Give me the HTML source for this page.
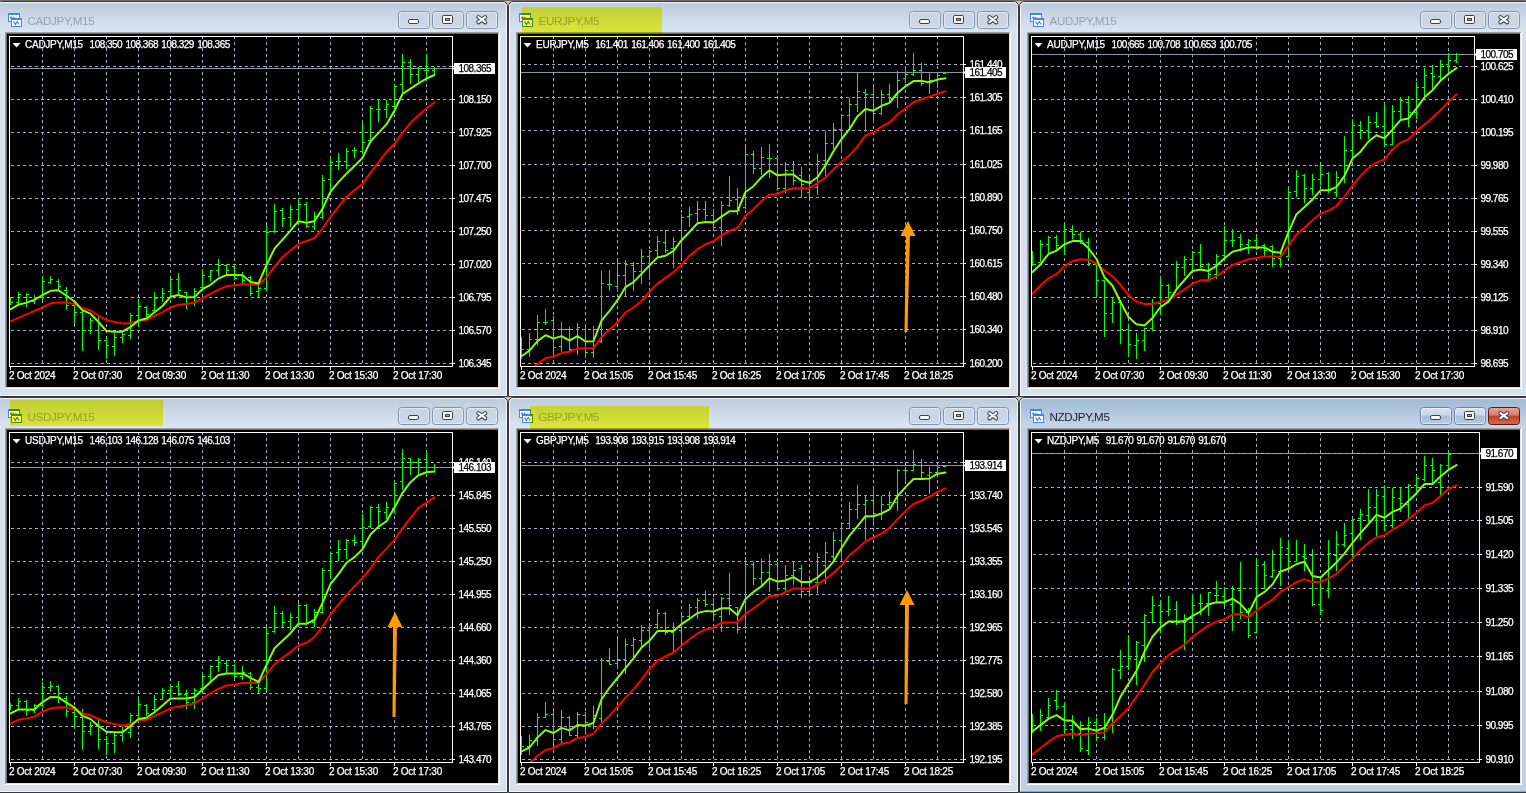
<!DOCTYPE html><html><head><meta charset="utf-8"><style>html,body{margin:0;padding:0;background:#c4c4c4;width:1526px;height:793px;overflow:hidden}svg{display:block} .n{font-family:'Liberation Sans', Arial, sans-serif;font-size:10px;letter-spacing:-0.52px;fill:#fff;stroke:#fff;stroke-width:0.25px} .n[fill]{fill:#000;stroke:#000} .t{font-family:'Liberation Sans', Arial, sans-serif;font-size:10px;letter-spacing:-0.25px;fill:#fff;stroke:#fff;stroke-width:0.25px}</style></head><body>
<svg width="1526" height="793" viewBox="0 0 1526 793">
<defs><linearGradient id="gI" x1="0" y1="0" x2="0" y2="1" gradientUnits="objectBoundingBox"><stop offset="0" stop-color="#bccadb"/><stop offset="0.075" stop-color="#dae5f1"/><stop offset="0.08" stop-color="#d5e1ee"/><stop offset="1" stop-color="#d5e1ee"/></linearGradient><linearGradient id="gA" x1="0" y1="0" x2="0" y2="1"><stop offset="0" stop-color="#9fb8d4"/><stop offset="0.075" stop-color="#c4d6ea"/><stop offset="0.08" stop-color="#bcd0e6"/><stop offset="1" stop-color="#bcd0e6"/></linearGradient><linearGradient id="gBtnI" x1="0" y1="0" x2="0" y2="1"><stop offset="0" stop-color="#c9d5e4"/><stop offset="1" stop-color="#cbd7e6"/></linearGradient><linearGradient id="gBtnA" x1="0" y1="0" x2="0" y2="1"><stop offset="0" stop-color="#d6e2ef"/><stop offset="0.45" stop-color="#c6d6e8"/><stop offset="0.5" stop-color="#a7bdd8"/><stop offset="1" stop-color="#b9cde3"/></linearGradient><linearGradient id="gRed" x1="0" y1="0" x2="0" y2="1"><stop offset="0" stop-color="#e8a393"/><stop offset="0.45" stop-color="#dc7e69"/><stop offset="0.5" stop-color="#c6401f"/><stop offset="1" stop-color="#d5694c"/></linearGradient></defs>
<rect x="0" y="0" width="1526" height="1" fill="#6f6f6d"/>
<path d="M-2.5,396.5 V7 Q-2.5,1.5 3,1.5 H502 Q507.5,1.5 507.5,7 V396.5 Z" fill="url(#gI)" stroke="#383838" stroke-width="1"/>
<path d="M-1.5,395.5 V7 Q-1.5,2.5 3,2.5 H502 Q506.5,2.5 506.5,7 V395.5 Z" fill="none" stroke="#f2f5fa" stroke-width="1"/>
<rect x="5" y="32" width="495" height="357" fill="#ffffff"/>
<rect x="5" y="32" width="494" height="356" fill="#a0a0a0"/>
<rect x="6" y="33" width="493" height="355" fill="#e3e3e3"/>
<rect x="6" y="33" width="492" height="354" fill="#696969"/>
<rect x="7" y="34" width="491" height="353" fill="#000"/>
<g transform="translate(-2,2)"><rect x="10.5" y="11.5" width="11" height="8" fill="#fff" stroke="#4683f0" stroke-width="1"/><rect x="10" y="11" width="12" height="2" fill="#4683f0"/><path d="M12,16.5 l1.2,-1.5 l1.2,1.5 M15,15 l1.3,1.3 h3" fill="none" stroke="#4683f0" stroke-width="1.1"/><rect x="13.5" y="16.5" width="10" height="8" fill="#fff" stroke="#4683f0" stroke-width="1"/><rect x="13" y="16" width="11" height="2" fill="#4683f0"/><path d="M15.5,19.5 L17.3,22.5 L19.2,19.5 L21.2,22.5" fill="none" stroke="#4683f0" stroke-width="1.2"/></g>
<text x="27.5" y="25" font-family="'Liberation Sans', Arial, sans-serif" font-size="11.6" letter-spacing="-0.32" fill="#979eae">CADJPY,M15</text>
<rect x="398.5" y="11.5" width="31" height="17" rx="3" fill="url(#gBtnI)" stroke="#8592ad" stroke-width="1"/>
<rect x="399.5" y="12.5" width="29" height="15" rx="2" fill="none" stroke="#ffffff" stroke-opacity="0.45" stroke-width="1"/>
<rect x="408.5" y="19.5" width="10" height="4" rx="1.5" fill="#fbfbfb" stroke="#3c4150" stroke-width="1"/>
<rect x="432.5" y="11.5" width="31" height="17" rx="3" fill="url(#gBtnI)" stroke="#8592ad" stroke-width="1"/>
<rect x="433.5" y="12.5" width="29" height="15" rx="2" fill="none" stroke="#ffffff" stroke-opacity="0.45" stroke-width="1"/>
<rect x="442.5" y="15.5" width="10" height="8" rx="1.2" fill="#fbfbfb" stroke="#3c4150" stroke-width="1"/><rect x="445.5" y="18.5" width="4" height="2" fill="#9aa8c8" stroke="#3c4150" stroke-width="1"/>
<rect x="466.5" y="11.5" width="31" height="17" rx="3" fill="url(#gBtnI)" stroke="#8592ad" stroke-width="1"/>
<rect x="467.5" y="12.5" width="29" height="15" rx="2" fill="none" stroke="#ffffff" stroke-opacity="0.45" stroke-width="1"/>
<path d="M478.40000000000003,17.2 L485.2,22.2 M485.2,17.2 L478.40000000000003,22.2" stroke="#3c4150" stroke-width="4.2" stroke-linecap="round"/><path d="M478.40000000000003,17.2 L485.2,22.2 M485.2,17.2 L478.40000000000003,22.2" stroke="#fbfbfb" stroke-width="2.2" stroke-linecap="round"/>
<clipPath id="clip00"><rect x="10" y="37" width="442" height="329"/></clipPath>
<rect x="10" y="68" width="442" height="1" fill="#8896aa"/>
<path d="M42.5,36V366M74.5,36V366M106.5,36V366M138.5,36V366M170.5,36V366M202.5,36V366M234.5,36V366M266.5,36V366M298.5,36V366M330.5,36V366M362.5,36V366M394.5,36V366M426.5,36V366" stroke="#a3aac2" stroke-width="1" stroke-dasharray="3 3" fill="none" shape-rendering="crispEdges"/>
<path d="M11,363.5H452M11,330.5H452M11,297.5H452M11,264.5H452M11,231.5H452M11,198.5H452M11,165.5H452M11,132.5H452M11,99.5H452M11,66.5H452" stroke="#a3aac2" stroke-width="1" stroke-dasharray="3 3" fill="none" shape-rendering="crispEdges" clip-path="url(#clip00)"/>
<path d="M10.5,297V305M8,301.5H10M11,302.5H13M18.5,292V304M16,302.5H18M19,294.5H21M26.5,293V307M24,303.5H26M27,294.5H29M34.5,295V304M32,301.5H34M35,297.5H37M42.5,276V300M40,297.5H42M43,281.5H45M50.5,276V284M48,282.5H50M51,279.5H53M58.5,279V291M56,281.5H58M59,286.5H61M66.5,287V310M64,290.5H66M67,305.5H69M74.5,305V324M72,305.5H74M75,312.5H77M82.5,311V351M80,312.5H82M83,330.5H85M90.5,318V334M88,330.5H90M91,320.5H93M98.5,316V350M96,320.5H98M99,340.5H101M106.5,338V359M104,340.5H106M107,345.5H109M114.5,333V356M112,346.5H114M115,337.5H117M122.5,333V343M120,337.5H122M123,334.5H125M130.5,313V339M128,335.5H130M131,315.5H133M138.5,299V327M136,315.5H138M139,306.5H141M146.5,306V320M144,307.5H146M147,314.5H149M154.5,292V311M152,310.5H154M155,298.5H157M162.5,288V302M160,297.5H162M163,293.5H165M170.5,279V298M168,291.5H170M171,279.5H173M178.5,273V294M176,279.5H178M179,290.5H181M186.5,292V309M184,292.5H186M187,297.5H189M194.5,288V306M192,297.5H194M195,291.5H197M202.5,269V291M200,287.5H202M203,275.5H205M210.5,270V281M208,276.5H210M211,270.5H213M218.5,259V276M216,270.5H218M219,265.5H221M226.5,264V276M224,265.5H226M227,270.5H229M234.5,265V280M232,266.5H234M235,278.5H237M242.5,272V284M240,275.5H242M243,280.5H245M250.5,276V296M248,277.5H250M251,293.5H253M258.5,284V298M256,291.5H258M259,288.5H261M266.5,225V291M264,288.5H266M267,232.5H269M274.5,204V233M272,231.5H274M275,211.5H277M282.5,208V227M280,210.5H282M283,218.5H285M290.5,205V227M288,217.5H290M291,209.5H293M298.5,199V223M296,209.5H298M299,204.5H301M306.5,202V228M304,204.5H306M307,226.5H309M314.5,212V230M312,226.5H314M315,216.5H317M322.5,175V219M320,217.5H322M323,180.5H325M330.5,157V191M328,179.5H330M331,162.5H333M338.5,153V170M336,161.5H338M339,161.5H341M346.5,148V169M344,161.5H346M347,151.5H349M354.5,147V158M352,150.5H354M355,150.5H357M362.5,121V154M360,151.5H362M363,142.5H365M370.5,106V141M368,140.5H370M371,108.5H373M378.5,99V122M376,109.5H378M379,109.5H381M386.5,100V118M384,109.5H386M387,104.5H389M394.5,84V113M392,106.5H394M395,86.5H397M402.5,54V93M400,84.5H402M403,62.5H405M410.5,59V84M408,62.5H410M411,74.5H413M418.5,67V82M416,74.5H418M419,68.5H421M426.5,54V79M424,70.5H426M427,70.5H429M434.5,67V74M432,70.5H434M435,68.5H437" stroke="#00ff00" stroke-width="1" fill="none" shape-rendering="crispEdges" clip-path="url(#clip00)"/>
<polyline points="10.5,321.3 18.5,317.9 26.5,314.4 34.5,310.9 42.5,307.5 50.5,303.3 58.5,302.6 66.5,302.6 74.5,304.0 82.5,308.2 90.5,310.3 98.5,315.8 106.5,320.0 114.5,322.0 122.5,323.4 130.5,323.1 138.5,320.6 146.5,319.9 154.5,315.8 162.5,312.3 170.5,307.4 178.5,304.7 186.5,304.0 194.5,302.6 202.5,298.1 210.5,293.8 218.5,289.6 226.5,286.1 234.5,285.5 242.5,284.1 250.5,284.8 258.5,284.8 266.5,277.5 274.5,266.6 282.5,257.1 290.5,250.5 298.5,243.9 306.5,241.0 314.5,238.2 322.5,228.7 330.5,216.8 338.5,206.7 346.5,196.9 354.5,190.1 362.5,184.0 370.5,172.7 378.5,162.3 386.5,151.8 394.5,143.8 402.5,132.6 410.5,122.8 418.5,115.2 426.5,108.4 434.5,102.3" fill="none" stroke="#ff0000" stroke-width="2" stroke-linejoin="round" stroke-linecap="round" clip-path="url(#clip00)"/>
<polyline points="10.5,309.3 18.5,304.7 26.5,302.6 34.5,299.9 42.5,295.0 50.5,290.8 58.5,290.2 66.5,295.7 74.5,301.5 82.5,310.3 90.5,313.7 98.5,322.0 106.5,331.0 114.5,331.7 122.5,331.7 130.5,326.9 138.5,320.5 146.5,318.5 154.5,312.3 162.5,306.0 170.5,296.8 178.5,295.0 186.5,297.5 194.5,297.0 202.5,289.0 210.5,284.8 218.5,278.5 226.5,275.1 234.5,275.1 242.5,275.3 250.5,282.0 258.5,283.4 266.5,265.0 274.5,248.6 282.5,239.7 290.5,230.6 298.5,221.2 306.5,222.7 314.5,221.2 322.5,208.9 330.5,191.7 338.5,182.1 346.5,173.6 354.5,166.0 362.5,157.9 370.5,141.4 378.5,132.9 386.5,124.4 394.5,110.5 402.5,94.0 410.5,88.7 418.5,83.4 426.5,78.5 434.5,75.0" fill="none" stroke="#80ff00" stroke-width="2" stroke-linejoin="round" stroke-linecap="round" clip-path="url(#clip00)"/>
<rect x="9.5" y="36.5" width="443" height="330" fill="none" stroke="#fff" stroke-width="1" shape-rendering="crispEdges"/>
<path d="M453,363.5H455M453,330.5H455M453,297.5H455M453,264.5H455M453,231.5H455M453,198.5H455M453,165.5H455M453,132.5H455M453,99.5H455M453,66.5H455M10.5,367V370M74.5,367V370M138.5,367V370M202.5,367V370M266.5,367V370M330.5,367V370M394.5,367V370" stroke="#fff" stroke-width="1" fill="none" shape-rendering="crispEdges"/>
<text x="458.5" y="367" class="n">106.345</text>
<text x="458.5" y="334" class="n">106.570</text>
<text x="458.5" y="301" class="n">106.795</text>
<text x="458.5" y="268" class="n">107.020</text>
<text x="458.5" y="235" class="n">107.250</text>
<text x="458.5" y="202" class="n">107.475</text>
<text x="458.5" y="169" class="n">107.700</text>
<text x="458.5" y="136" class="n">107.925</text>
<text x="458.5" y="103" class="n">108.150</text>
<path d="M454,63 h41 v11 h-41 v-4 l-1,-1 v-1 l1,-1 z" fill="#fff"/>
<text x="458.5" y="72" class="n" fill="#000">108.365</text>
<text x="9" y="379" class="t">2 Oct 2024</text>
<text x="73" y="379" class="t">2 Oct 07:30</text>
<text x="137" y="379" class="t">2 Oct 09:30</text>
<text x="201" y="379" class="t">2 Oct 11:30</text>
<text x="265" y="379" class="t">2 Oct 13:30</text>
<text x="329" y="379" class="t">2 Oct 15:30</text>
<text x="393" y="379" class="t">2 Oct 17:30</text>
<path d="M12.5,43 h8 l-4,4.5 z" fill="#fff"/>
<text x="25" y="48" class="t" xml:space="preserve">CADJPY,M15<tspan class="n" word-spacing="1.1">  108.350 108.368 108.329 108.365</tspan></text>
<path d="M508.5,396.5 V7 Q508.5,1.5 514,1.5 H1013 Q1018.5,1.5 1018.5,7 V396.5 Z" fill="url(#gI)" stroke="#383838" stroke-width="1"/>
<path d="M509.5,395.5 V7 Q509.5,2.5 514,2.5 H1013 Q1017.5,2.5 1017.5,7 V395.5 Z" fill="none" stroke="#f2f5fa" stroke-width="1"/>
<rect x="516" y="32" width="495" height="357" fill="#ffffff"/>
<rect x="516" y="32" width="494" height="356" fill="#a0a0a0"/>
<rect x="517" y="33" width="493" height="355" fill="#e3e3e3"/>
<rect x="517" y="33" width="492" height="354" fill="#696969"/>
<rect x="518" y="34" width="491" height="353" fill="#000"/>
<g transform="translate(509,2)"><rect x="10.5" y="11.5" width="11" height="8" fill="#fff" stroke="#4683f0" stroke-width="1"/><rect x="10" y="11" width="12" height="2" fill="#4683f0"/><path d="M12,16.5 l1.2,-1.5 l1.2,1.5 M15,15 l1.3,1.3 h3" fill="none" stroke="#4683f0" stroke-width="1.1"/><rect x="13.5" y="16.5" width="10" height="8" fill="#fff" stroke="#4683f0" stroke-width="1"/><rect x="13" y="16" width="11" height="2" fill="#4683f0"/><path d="M15.5,19.5 L17.3,22.5 L19.2,19.5 L21.2,22.5" fill="none" stroke="#4683f0" stroke-width="1.2"/></g>
<text x="538.5" y="25" font-family="'Liberation Sans', Arial, sans-serif" font-size="11.6" letter-spacing="-0.32" fill="#979eae">EURJPY,M5</text>
<rect x="909.5" y="11.5" width="31" height="17" rx="3" fill="url(#gBtnI)" stroke="#8592ad" stroke-width="1"/>
<rect x="910.5" y="12.5" width="29" height="15" rx="2" fill="none" stroke="#ffffff" stroke-opacity="0.45" stroke-width="1"/>
<rect x="919.5" y="19.5" width="10" height="4" rx="1.5" fill="#fbfbfb" stroke="#3c4150" stroke-width="1"/>
<rect x="943.5" y="11.5" width="31" height="17" rx="3" fill="url(#gBtnI)" stroke="#8592ad" stroke-width="1"/>
<rect x="944.5" y="12.5" width="29" height="15" rx="2" fill="none" stroke="#ffffff" stroke-opacity="0.45" stroke-width="1"/>
<rect x="953.5" y="15.5" width="10" height="8" rx="1.2" fill="#fbfbfb" stroke="#3c4150" stroke-width="1"/><rect x="956.5" y="18.5" width="4" height="2" fill="#9aa8c8" stroke="#3c4150" stroke-width="1"/>
<rect x="977.5" y="11.5" width="31" height="17" rx="3" fill="url(#gBtnI)" stroke="#8592ad" stroke-width="1"/>
<rect x="978.5" y="12.5" width="29" height="15" rx="2" fill="none" stroke="#ffffff" stroke-opacity="0.45" stroke-width="1"/>
<path d="M989.4,17.2 L996.1999999999999,22.2 M996.1999999999999,17.2 L989.4,22.2" stroke="#3c4150" stroke-width="4.2" stroke-linecap="round"/><path d="M989.4,17.2 L996.1999999999999,22.2 M996.1999999999999,17.2 L989.4,22.2" stroke="#fbfbfb" stroke-width="2.2" stroke-linecap="round"/>
<clipPath id="clip10"><rect x="521" y="37" width="442" height="329"/></clipPath>
<rect x="521" y="72" width="442" height="1" fill="#8896aa"/>
<path d="M553.5,36V366M585.5,36V366M617.5,36V366M649.5,36V366M681.5,36V366M713.5,36V366M745.5,36V366M777.5,36V366M809.5,36V366M841.5,36V366M873.5,36V366M905.5,36V366M937.5,36V366" stroke="#a3aac2" stroke-width="1" stroke-dasharray="3 3" fill="none" shape-rendering="crispEdges"/>
<path d="M522,363.5H963M522,329.5H963M522,296.5H963M522,263.5H963M522,230.5H963M522,197.5H963M522,164.5H963M522,130.5H963M522,97.5H963M522,64.5H963" stroke="#a3aac2" stroke-width="1" stroke-dasharray="3 3" fill="none" shape-rendering="crispEdges" clip-path="url(#clip10)"/>
<path d="M521.5,337V359M519,350.5H521M522,349.5H524M529.5,333V357M527,349.5H529M530,339.5H532M537.5,315V345M535,339.5H537M538,322.5H540M545.5,309V325M543,322.5H545M546,322.5H548M553.5,316V354M551,320.5H553M554,347.5H556M561.5,322V352M559,346.5H561M562,329.5H564M569.5,327V352M567,329.5H569M570,349.5H572M577.5,323V355M575,349.5H577M578,327.5H580M585.5,324V358M583,329.5H585M586,352.5H588M593.5,326V358M591,352.5H593M594,345.5H596M601.5,271V343M599,341.5H601M602,283.5H604M609.5,270V291M607,284.5H609M610,284.5H612M617.5,261V292M615,286.5H617M618,275.5H620M625.5,260V296M623,275.5H625M626,264.5H628M633.5,262V291M631,265.5H633M634,271.5H636M641.5,249V284M639,271.5H641M642,256.5H644M649.5,250V280M647,256.5H649M650,251.5H652M657.5,236V257M655,250.5H657M658,241.5H660M665.5,230V253M663,242.5H665M666,250.5H668M673.5,237V268M671,248.5H673M674,241.5H676M681.5,214V258M679,241.5H681M682,217.5H684M689.5,207V227M687,216.5H689M690,214.5H692M697.5,201V224M695,213.5H697M698,209.5H700M705.5,201V220M703,209.5H705M706,215.5H708M713.5,209V231M711,215.5H713M714,227.5H716M721.5,201V246M719,227.5H721M722,205.5H724M729.5,176V207M727,205.5H729M730,200.5H732M737.5,188V215M735,199.5H737M738,210.5H740M745.5,147V209M743,207.5H745M746,154.5H748M753.5,151V174M751,154.5H753M754,168.5H756M761.5,147V175M759,168.5H761M762,157.5H764M769.5,144V178M767,158.5H769M770,158.5H772M777.5,155V191M775,158.5H777M778,188.5H780M785.5,162V193M783,188.5H785M786,170.5H788M793.5,161V185M791,170.5H793M794,180.5H796M801.5,167V198M799,175.5H801M802,184.5H804M809.5,177V199M807,192.5H809M810,183.5H812M817.5,154V195M815,187.5H817M818,161.5H820M825.5,131V176M823,160.5H825M826,143.5H828M833.5,123V149M831,143.5H833M834,129.5H836M841.5,114V153M839,129.5H841M842,115.5H844M849.5,98V130M847,115.5H849M850,104.5H852M857.5,72V112M855,104.5H857M858,91.5H860M865.5,89V132M863,92.5H865M866,94.5H868M873.5,87V123M871,94.5H873M874,113.5H876M881.5,90V115M879,113.5H881M882,94.5H884M889.5,84V102M887,94.5H889M890,98.5H892M897.5,71V108M895,97.5H897M898,80.5H900M905.5,69V83M903,78.5H905M906,74.5H908M913.5,53V76M911,74.5H913M914,70.5H916M921.5,63V86M919,70.5H921M922,83.5H924M929.5,72V94M927,82.5H929M930,80.5H932M937.5,72V88M935,80.5H937M938,75.5H940M945.5,72V74M943,73.5H945M946,72.5H948" stroke="#00ff00" stroke-width="1" fill="none" shape-rendering="crispEdges" clip-path="url(#clip10)"/>
<polyline points="535.5,365.5 545.5,358.1 553.5,356.9 561.5,353.1 569.5,351.8 577.5,348.4 585.5,348.3 593.5,348.2 601.5,337.1 609.5,329.7 617.5,322.3 625.5,312.5 633.5,307.5 641.5,301.0 649.5,291.7 657.5,283.6 665.5,277.9 673.5,272.1 681.5,264.8 689.5,255.7 697.5,249.2 705.5,244.3 713.5,241.3 721.5,235.4 729.5,230.8 737.5,228.0 745.5,215.7 753.5,209.2 761.5,201.0 769.5,194.4 777.5,194.0 785.5,190.3 793.5,188.2 801.5,188.2 809.5,188.2 817.5,183.3 825.5,177.5 833.5,169.4 841.5,161.8 849.5,155.3 857.5,146.3 865.5,135.3 873.5,132.4 881.5,126.6 889.5,122.5 897.5,114.4 905.5,108.6 913.5,102.3 921.5,99.3 929.5,96.6 937.5,93.8 945.5,91.3" fill="none" stroke="#ff0000" stroke-width="2" stroke-linejoin="round" stroke-linecap="round" clip-path="url(#clip10)"/>
<polyline points="521.5,356.3 529.5,350.6 537.5,341.1 545.5,335.2 553.5,338.6 561.5,336.1 569.5,340.5 577.5,336.1 585.5,341.5 593.5,341.2 601.5,320.7 609.5,310.8 617.5,300.2 625.5,287.1 633.5,282.1 641.5,273.9 649.5,265.5 657.5,257.4 665.5,255.7 673.5,250.8 681.5,240.2 689.5,232.0 697.5,223.3 705.5,222.1 713.5,222.5 721.5,216.6 729.5,211.2 737.5,211.2 745.5,192.0 753.5,186.2 761.5,177.2 769.5,170.3 777.5,175.3 785.5,174.6 793.5,174.6 801.5,180.8 809.5,182.8 817.5,177.2 825.5,165.3 833.5,151.3 841.5,139.0 849.5,129.1 857.5,116.3 865.5,109.1 873.5,110.7 881.5,105.8 889.5,102.9 897.5,93.0 905.5,86.3 913.5,81.1 921.5,81.1 929.5,82.2 937.5,79.6 945.5,78.3" fill="none" stroke="#80ff00" stroke-width="2" stroke-linejoin="round" stroke-linecap="round" clip-path="url(#clip10)"/>
<rect x="520.5" y="36.5" width="443" height="330" fill="none" stroke="#fff" stroke-width="1" shape-rendering="crispEdges"/>
<path d="M964,363.5H966M964,329.5H966M964,296.5H966M964,263.5H966M964,230.5H966M964,197.5H966M964,164.5H966M964,130.5H966M964,97.5H966M964,64.5H966M521.5,367V370M585.5,367V370M649.5,367V370M713.5,367V370M777.5,367V370M841.5,367V370M905.5,367V370" stroke="#fff" stroke-width="1" fill="none" shape-rendering="crispEdges"/>
<text x="969.5" y="367" class="n">160.200</text>
<text x="969.5" y="333" class="n">160.340</text>
<text x="969.5" y="300" class="n">160.480</text>
<text x="969.5" y="267" class="n">160.615</text>
<text x="969.5" y="234" class="n">160.750</text>
<text x="969.5" y="201" class="n">160.890</text>
<text x="969.5" y="168" class="n">161.025</text>
<text x="969.5" y="134" class="n">161.165</text>
<text x="969.5" y="101" class="n">161.305</text>
<text x="969.5" y="68" class="n">161.440</text>
<path d="M965,67 h41 v11 h-41 v-4 l-1,-1 v-1 l1,-1 z" fill="#fff"/>
<text x="969.5" y="76" class="n" fill="#000">161.405</text>
<text x="520" y="379" class="t">2 Oct 2024</text>
<text x="584" y="379" class="t">2 Oct 15:05</text>
<text x="648" y="379" class="t">2 Oct 15:45</text>
<text x="712" y="379" class="t">2 Oct 16:25</text>
<text x="776" y="379" class="t">2 Oct 17:05</text>
<text x="840" y="379" class="t">2 Oct 17:45</text>
<text x="904" y="379" class="t">2 Oct 18:25</text>
<path d="M523.5,43 h8 l-4,4.5 z" fill="#fff"/>
<text x="536" y="48" class="t" xml:space="preserve">EURJPY,M5<tspan class="n" word-spacing="1.1">  161.401 161.406 161.400 161.405</tspan></text>
<path d="M904.5,332 L906,233 L910,233 L907.5,332 Z" fill="#ff9a00"/>
<path d="M908,221 l7.5,15 h-15 z" fill="#ff9a00"/>
<path d="M1019.5,396.5 V7 Q1019.5,1.5 1025,1.5 H1524 Q1529.5,1.5 1529.5,7 V396.5 Z" fill="url(#gI)" stroke="#383838" stroke-width="1"/>
<path d="M1020.5,395.5 V7 Q1020.5,2.5 1025,2.5 H1524 Q1528.5,2.5 1528.5,7 V395.5 Z" fill="none" stroke="#f2f5fa" stroke-width="1"/>
<rect x="1027" y="32" width="495" height="357" fill="#ffffff"/>
<rect x="1027" y="32" width="494" height="356" fill="#a0a0a0"/>
<rect x="1028" y="33" width="493" height="355" fill="#e3e3e3"/>
<rect x="1028" y="33" width="492" height="354" fill="#696969"/>
<rect x="1029" y="34" width="491" height="353" fill="#000"/>
<g transform="translate(1020,2)"><rect x="10.5" y="11.5" width="11" height="8" fill="#fff" stroke="#4683f0" stroke-width="1"/><rect x="10" y="11" width="12" height="2" fill="#4683f0"/><path d="M12,16.5 l1.2,-1.5 l1.2,1.5 M15,15 l1.3,1.3 h3" fill="none" stroke="#4683f0" stroke-width="1.1"/><rect x="13.5" y="16.5" width="10" height="8" fill="#fff" stroke="#4683f0" stroke-width="1"/><rect x="13" y="16" width="11" height="2" fill="#4683f0"/><path d="M15.5,19.5 L17.3,22.5 L19.2,19.5 L21.2,22.5" fill="none" stroke="#4683f0" stroke-width="1.2"/></g>
<text x="1049.5" y="25" font-family="'Liberation Sans', Arial, sans-serif" font-size="11.6" letter-spacing="-0.32" fill="#979eae">AUDJPY,M15</text>
<rect x="1420.5" y="11.5" width="31" height="17" rx="3" fill="url(#gBtnI)" stroke="#8592ad" stroke-width="1"/>
<rect x="1421.5" y="12.5" width="29" height="15" rx="2" fill="none" stroke="#ffffff" stroke-opacity="0.45" stroke-width="1"/>
<rect x="1430.5" y="19.5" width="10" height="4" rx="1.5" fill="#fbfbfb" stroke="#3c4150" stroke-width="1"/>
<rect x="1454.5" y="11.5" width="31" height="17" rx="3" fill="url(#gBtnI)" stroke="#8592ad" stroke-width="1"/>
<rect x="1455.5" y="12.5" width="29" height="15" rx="2" fill="none" stroke="#ffffff" stroke-opacity="0.45" stroke-width="1"/>
<rect x="1464.5" y="15.5" width="10" height="8" rx="1.2" fill="#fbfbfb" stroke="#3c4150" stroke-width="1"/><rect x="1467.5" y="18.5" width="4" height="2" fill="#9aa8c8" stroke="#3c4150" stroke-width="1"/>
<rect x="1488.5" y="11.5" width="31" height="17" rx="3" fill="url(#gBtnI)" stroke="#8592ad" stroke-width="1"/>
<rect x="1489.5" y="12.5" width="29" height="15" rx="2" fill="none" stroke="#ffffff" stroke-opacity="0.45" stroke-width="1"/>
<path d="M1500.3999999999999,17.2 L1507.2,22.2 M1507.2,17.2 L1500.3999999999999,22.2" stroke="#3c4150" stroke-width="4.2" stroke-linecap="round"/><path d="M1500.3999999999999,17.2 L1507.2,22.2 M1507.2,17.2 L1500.3999999999999,22.2" stroke="#fbfbfb" stroke-width="2.2" stroke-linecap="round"/>
<clipPath id="clip20"><rect x="1032" y="37" width="442" height="329"/></clipPath>
<rect x="1032" y="54" width="442" height="1" fill="#8896aa"/>
<path d="M1064.5,36V366M1096.5,36V366M1128.5,36V366M1160.5,36V366M1192.5,36V366M1224.5,36V366M1256.5,36V366M1288.5,36V366M1320.5,36V366M1352.5,36V366M1384.5,36V366M1416.5,36V366M1448.5,36V366" stroke="#a3aac2" stroke-width="1" stroke-dasharray="3 3" fill="none" shape-rendering="crispEdges"/>
<path d="M1033,363.5H1474M1033,330.5H1474M1033,297.5H1474M1033,264.5H1474M1033,231.5H1474M1033,198.5H1474M1033,165.5H1474M1033,132.5H1474M1033,99.5H1474M1033,66.5H1474" stroke="#a3aac2" stroke-width="1" stroke-dasharray="3 3" fill="none" shape-rendering="crispEdges" clip-path="url(#clip20)"/>
<path d="M1032.5,251V266M1030,258.5H1032M1033,264.5H1035M1040.5,240V262M1038,262.5H1040M1041,244.5H1043M1048.5,236V254M1046,244.5H1048M1049,237.5H1051M1056.5,235V249M1054,237.5H1056M1057,245.5H1059M1064.5,224V255M1062,245.5H1064M1065,229.5H1067M1072.5,225V239M1070,229.5H1072M1073,234.5H1075M1080.5,232V244M1078,234.5H1080M1081,240.5H1083M1088.5,238V266M1086,242.5H1088M1089,263.5H1091M1096.5,264V298M1094,264.5H1096M1097,280.5H1099M1104.5,280V337M1102,280.5H1104M1105,313.5H1107M1112.5,298V323M1110,313.5H1112M1113,302.5H1115M1120.5,300V344M1118,302.5H1120M1121,329.5H1123M1128.5,324V357M1126,329.5H1128M1129,344.5H1131M1136.5,333V359M1134,345.5H1136M1137,340.5H1139M1144.5,328V351M1142,340.5H1144M1145,328.5H1147M1152.5,299V331M1150,328.5H1152M1153,303.5H1155M1160.5,277V315M1158,303.5H1160M1161,285.5H1163M1168.5,284V302M1166,285.5H1168M1169,292.5H1171M1176.5,261V290M1174,292.5H1176M1177,267.5H1179M1184.5,256V276M1182,267.5H1184M1185,259.5H1187M1192.5,251V270M1190,259.5H1192M1193,252.5H1195M1200.5,244V268M1198,252.5H1200M1201,266.5H1203M1208.5,263V279M1206,264.5H1208M1209,274.5H1211M1216.5,254V279M1214,274.5H1216M1217,256.5H1219M1224.5,226V257M1222,255.5H1224M1225,240.5H1227M1232.5,229V247M1230,240.5H1232M1233,240.5H1235M1240.5,234V251M1238,237.5H1240M1241,244.5H1243M1248.5,239V254M1246,244.5H1248M1249,240.5H1251M1256.5,236V250M1254,240.5H1256M1257,248.5H1259M1264.5,244V256M1262,245.5H1264M1265,250.5H1267M1272.5,245V267M1270,246.5H1272M1273,258.5H1275M1280.5,252V267M1278,258.5H1280M1281,253.5H1283M1288.5,187V257M1286,256.5H1288M1289,192.5H1291M1296.5,170V197M1294,191.5H1296M1297,176.5H1299M1304.5,174V203M1302,175.5H1304M1305,188.5H1307M1312.5,174V195M1310,188.5H1312M1313,179.5H1315M1320.5,164V185M1318,179.5H1320M1321,174.5H1323M1328.5,172V193M1326,173.5H1328M1329,190.5H1331M1336.5,171V197M1334,192.5H1336M1337,177.5H1339M1344.5,136V183M1342,177.5H1344M1345,150.5H1347M1352.5,119V157M1350,150.5H1352M1353,125.5H1355M1360.5,121V139M1358,125.5H1360M1361,130.5H1363M1368.5,116V139M1366,130.5H1368M1369,122.5H1371M1376.5,112V128M1374,122.5H1376M1377,126.5H1379M1384.5,103V147M1382,126.5H1384M1385,144.5H1387M1392.5,105V145M1390,144.5H1392M1393,111.5H1395M1400.5,97V119M1398,111.5H1400M1401,100.5H1403M1408.5,96V127M1406,102.5H1408M1409,112.5H1411M1416.5,82V119M1414,112.5H1416M1417,87.5H1419M1424.5,68V96M1422,87.5H1424M1425,75.5H1427M1432.5,65V89M1430,73.5H1432M1433,76.5H1435M1440.5,60V80M1438,76.5H1440M1441,64.5H1443M1448.5,53V74M1446,64.5H1448M1449,60.5H1451M1456.5,53V63M1454,60.5H1456M1457,54.5H1459" stroke="#00ff00" stroke-width="1" fill="none" shape-rendering="crispEdges" clip-path="url(#clip20)"/>
<polyline points="1032.5,293.7 1040.5,285.2 1048.5,278.6 1056.5,273.9 1064.5,266.3 1072.5,261.2 1080.5,259.3 1088.5,259.7 1096.5,263.7 1104.5,270.6 1112.5,276.3 1120.5,284.8 1128.5,295.2 1136.5,301.5 1144.5,304.1 1152.5,304.1 1160.5,301.9 1168.5,299.8 1176.5,294.7 1184.5,289.4 1192.5,283.7 1200.5,280.3 1208.5,280.3 1216.5,276.2 1224.5,270.5 1232.5,265.0 1240.5,262.1 1248.5,259.3 1256.5,258.0 1264.5,256.4 1272.5,256.4 1280.5,256.8 1288.5,245.9 1296.5,234.4 1304.5,227.8 1312.5,220.2 1320.5,213.6 1328.5,210.8 1336.5,206.0 1344.5,196.6 1352.5,185.7 1360.5,175.9 1368.5,168.0 1376.5,162.7 1384.5,159.3 1392.5,149.4 1400.5,142.8 1408.5,139.3 1416.5,131.1 1424.5,124.6 1432.5,117.8 1440.5,110.2 1448.5,101.9 1456.5,94.3" fill="none" stroke="#ff0000" stroke-width="2" stroke-linejoin="round" stroke-linecap="round" clip-path="url(#clip20)"/>
<polyline points="1032.5,272.0 1040.5,264.4 1048.5,254.0 1056.5,250.6 1064.5,244.2 1072.5,241.1 1080.5,241.1 1088.5,248.3 1096.5,259.0 1104.5,277.3 1112.5,285.8 1120.5,301.8 1128.5,317.0 1136.5,324.2 1144.5,325.5 1152.5,317.9 1160.5,307.0 1168.5,301.7 1176.5,289.4 1184.5,280.0 1192.5,270.9 1200.5,269.5 1208.5,270.9 1216.5,265.8 1224.5,258.3 1232.5,251.7 1240.5,249.8 1248.5,247.4 1256.5,247.4 1264.5,247.4 1272.5,251.7 1280.5,252.7 1288.5,232.2 1296.5,214.2 1304.5,207.0 1312.5,199.4 1320.5,190.3 1328.5,190.3 1336.5,187.1 1344.5,175.8 1352.5,158.5 1360.5,151.7 1368.5,141.5 1376.5,135.2 1384.5,138.4 1392.5,129.6 1400.5,120.1 1408.5,118.4 1416.5,108.3 1424.5,97.3 1432.5,90.2 1440.5,80.7 1448.5,73.8 1456.5,68.1" fill="none" stroke="#80ff00" stroke-width="2" stroke-linejoin="round" stroke-linecap="round" clip-path="url(#clip20)"/>
<rect x="1031.5" y="36.5" width="443" height="330" fill="none" stroke="#fff" stroke-width="1" shape-rendering="crispEdges"/>
<path d="M1475,363.5H1477M1475,330.5H1477M1475,297.5H1477M1475,264.5H1477M1475,231.5H1477M1475,198.5H1477M1475,165.5H1477M1475,132.5H1477M1475,99.5H1477M1475,66.5H1477M1032.5,367V370M1096.5,367V370M1160.5,367V370M1224.5,367V370M1288.5,367V370M1352.5,367V370M1416.5,367V370" stroke="#fff" stroke-width="1" fill="none" shape-rendering="crispEdges"/>
<text x="1480.5" y="367" class="n">98.695</text>
<text x="1480.5" y="334" class="n">98.910</text>
<text x="1480.5" y="301" class="n">99.125</text>
<text x="1480.5" y="268" class="n">99.340</text>
<text x="1480.5" y="235" class="n">99.555</text>
<text x="1480.5" y="202" class="n">99.765</text>
<text x="1480.5" y="169" class="n">99.980</text>
<text x="1480.5" y="136" class="n">100.195</text>
<text x="1480.5" y="103" class="n">100.410</text>
<text x="1480.5" y="70" class="n">100.625</text>
<path d="M1476,49 h41 v11 h-41 v-4 l-1,-1 v-1 l1,-1 z" fill="#fff"/>
<text x="1480.5" y="58" class="n" fill="#000">100.705</text>
<text x="1031" y="379" class="t">2 Oct 2024</text>
<text x="1095" y="379" class="t">2 Oct 07:30</text>
<text x="1159" y="379" class="t">2 Oct 09:30</text>
<text x="1223" y="379" class="t">2 Oct 11:30</text>
<text x="1287" y="379" class="t">2 Oct 13:30</text>
<text x="1351" y="379" class="t">2 Oct 15:30</text>
<text x="1415" y="379" class="t">2 Oct 17:30</text>
<path d="M1034.5,43 h8 l-4,4.5 z" fill="#fff"/>
<text x="1047" y="48" class="t" xml:space="preserve">AUDJPY,M15<tspan class="n" word-spacing="1.1">  100.665 100.708 100.653 100.705</tspan></text>
<path d="M-2.5,792.5 V403 Q-2.5,397.5 3,397.5 H502 Q507.5,397.5 507.5,403 V792.5 Z" fill="url(#gI)" stroke="#383838" stroke-width="1"/>
<path d="M-1.5,791.5 V403 Q-1.5,398.5 3,398.5 H502 Q506.5,398.5 506.5,403 V791.5 Z" fill="none" stroke="#f2f5fa" stroke-width="1"/>
<rect x="5" y="428" width="495" height="357" fill="#ffffff"/>
<rect x="5" y="428" width="494" height="356" fill="#a0a0a0"/>
<rect x="6" y="429" width="493" height="355" fill="#e3e3e3"/>
<rect x="6" y="429" width="492" height="354" fill="#696969"/>
<rect x="7" y="430" width="491" height="353" fill="#000"/>
<g transform="translate(-2,398)"><rect x="10.5" y="11.5" width="11" height="8" fill="#fff" stroke="#4683f0" stroke-width="1"/><rect x="10" y="11" width="12" height="2" fill="#4683f0"/><path d="M12,16.5 l1.2,-1.5 l1.2,1.5 M15,15 l1.3,1.3 h3" fill="none" stroke="#4683f0" stroke-width="1.1"/><rect x="13.5" y="16.5" width="10" height="8" fill="#fff" stroke="#4683f0" stroke-width="1"/><rect x="13" y="16" width="11" height="2" fill="#4683f0"/><path d="M15.5,19.5 L17.3,22.5 L19.2,19.5 L21.2,22.5" fill="none" stroke="#4683f0" stroke-width="1.2"/></g>
<text x="27.5" y="421" font-family="'Liberation Sans', Arial, sans-serif" font-size="11.6" letter-spacing="-0.32" fill="#979eae">USDJPY,M15</text>
<rect x="398.5" y="407.5" width="31" height="17" rx="3" fill="url(#gBtnI)" stroke="#8592ad" stroke-width="1"/>
<rect x="399.5" y="408.5" width="29" height="15" rx="2" fill="none" stroke="#ffffff" stroke-opacity="0.45" stroke-width="1"/>
<rect x="408.5" y="415.5" width="10" height="4" rx="1.5" fill="#fbfbfb" stroke="#3c4150" stroke-width="1"/>
<rect x="432.5" y="407.5" width="31" height="17" rx="3" fill="url(#gBtnI)" stroke="#8592ad" stroke-width="1"/>
<rect x="433.5" y="408.5" width="29" height="15" rx="2" fill="none" stroke="#ffffff" stroke-opacity="0.45" stroke-width="1"/>
<rect x="442.5" y="411.5" width="10" height="8" rx="1.2" fill="#fbfbfb" stroke="#3c4150" stroke-width="1"/><rect x="445.5" y="414.5" width="4" height="2" fill="#9aa8c8" stroke="#3c4150" stroke-width="1"/>
<rect x="466.5" y="407.5" width="31" height="17" rx="3" fill="url(#gBtnI)" stroke="#8592ad" stroke-width="1"/>
<rect x="467.5" y="408.5" width="29" height="15" rx="2" fill="none" stroke="#ffffff" stroke-opacity="0.45" stroke-width="1"/>
<path d="M478.40000000000003,413.2 L485.2,418.2 M485.2,413.2 L478.40000000000003,418.2" stroke="#3c4150" stroke-width="4.2" stroke-linecap="round"/><path d="M478.40000000000003,413.2 L485.2,418.2 M485.2,413.2 L478.40000000000003,418.2" stroke="#fbfbfb" stroke-width="2.2" stroke-linecap="round"/>
<clipPath id="clip01"><rect x="10" y="433" width="442" height="329"/></clipPath>
<rect x="10" y="467" width="442" height="1" fill="#8896aa"/>
<path d="M42.5,432V762M74.5,432V762M106.5,432V762M138.5,432V762M170.5,432V762M202.5,432V762M234.5,432V762M266.5,432V762M298.5,432V762M330.5,432V762M362.5,432V762M394.5,432V762M426.5,432V762" stroke="#a3aac2" stroke-width="1" stroke-dasharray="3 3" fill="none" shape-rendering="crispEdges"/>
<path d="M11,759.5H452M11,726.5H452M11,693.5H452M11,660.5H452M11,627.5H452M11,594.5H452M11,561.5H452M11,528.5H452M11,495.5H452M11,462.5H452" stroke="#a3aac2" stroke-width="1" stroke-dasharray="3 3" fill="none" shape-rendering="crispEdges" clip-path="url(#clip01)"/>
<path d="M10.5,703V710M8,706.5H10M11,705.5H13M18.5,698V709M16,705.5H18M19,701.5H21M26.5,700V716M24,701.5H26M27,710.5H29M34.5,704V713M32,710.5H34M35,705.5H37M42.5,682V707M40,705.5H42M43,687.5H45M50.5,681V692M48,687.5H50M51,686.5H53M58.5,685V703M56,686.5H58M59,697.5H61M66.5,696V717M64,698.5H66M67,711.5H69M74.5,710V727M72,712.5H74M75,716.5H77M82.5,709V750M80,717.5H82M83,731.5H85M90.5,722V735M88,731.5H90M91,725.5H93M98.5,720V749M96,725.5H98M99,739.5H101M106.5,736V755M104,739.5H106M107,743.5H109M114.5,732V753M112,743.5H114M115,735.5H117M122.5,727V742M120,735.5H122M123,730.5H125M130.5,713V738M128,732.5H130M131,715.5H133M138.5,698V723M136,715.5H138M139,704.5H141M146.5,704V716M144,705.5H146M147,713.5H149M154.5,695V711M152,709.5H154M155,699.5H157M162.5,688V700M160,699.5H162M163,690.5H165M170.5,685V699M168,690.5H170M171,686.5H173M178.5,681V696M176,686.5H178M179,694.5H181M186.5,690V709M184,694.5H186M187,702.5H189M194.5,688V709M192,702.5H194M195,690.5H197M202.5,673V694M200,688.5H202M203,676.5H205M210.5,665V681M208,676.5H210M211,666.5H213M218.5,656V672M216,666.5H218M219,662.5H221M226.5,660V674M224,663.5H226M227,665.5H229M234.5,664V678M232,665.5H234M235,676.5H237M242.5,666V680M240,676.5H242M243,672.5H245M250.5,672V690M248,673.5H250M251,687.5H253M258.5,681V694M256,687.5H258M259,688.5H261M266.5,627V691M264,688.5H266M267,633.5H269M274.5,606V633M272,631.5H274M275,613.5H277M282.5,611V628M280,613.5H282M283,622.5H285M290.5,613V630M288,621.5H290M291,617.5H293M298.5,603V624M296,617.5H298M299,605.5H301M306.5,604V625M304,605.5H306M307,623.5H309M314.5,609V627M312,622.5H314M315,612.5H317M322.5,568V614M320,612.5H322M323,570.5H325M330.5,552V579M328,570.5H330M331,553.5H333M338.5,540V561M336,552.5H338M339,549.5H341M346.5,539V559M344,549.5H346M347,540.5H349M354.5,535V546M352,540.5H354M355,542.5H357M362.5,514V546M360,541.5H362M363,527.5H365M370.5,506V528M368,526.5H370M371,507.5H373M378.5,504V526M376,507.5H378M379,511.5H381M386.5,502V519M384,512.5H386M387,507.5H389M394.5,481V513M392,508.5H394M395,483.5H397M402.5,449V490M400,481.5H402M403,458.5H405M410.5,458V475M408,458.5H410M411,462.5H413M418.5,458V474M416,462.5H418M419,459.5H421M426.5,451V472M424,459.5H426M427,467.5H429M434.5,464V471M432,467.5H434M435,467.5H437" stroke="#00ff00" stroke-width="1" fill="none" shape-rendering="crispEdges" clip-path="url(#clip01)"/>
<polyline points="10.5,723.6 18.5,719.8 26.5,718.5 34.5,716.6 42.5,711.6 50.5,708.4 58.5,707.2 66.5,707.4 74.5,709.5 82.5,713.4 90.5,715.3 98.5,719.0 106.5,722.2 114.5,724.1 122.5,725.7 130.5,724.1 138.5,720.1 146.5,719.9 154.5,715.8 162.5,712.3 170.5,708.4 178.5,706.5 186.5,705.4 194.5,703.3 202.5,698.5 210.5,693.1 218.5,688.9 226.5,685.5 234.5,684.8 242.5,683.1 250.5,683.1 258.5,682.7 266.5,674.1 274.5,664.4 282.5,657.8 290.5,652.1 298.5,645.5 306.5,642.7 314.5,637.0 322.5,626.6 330.5,614.3 338.5,604.5 346.5,595.0 354.5,586.4 362.5,577.9 370.5,568.5 378.5,557.1 386.5,548.6 394.5,539.8 402.5,528.4 410.5,517.8 418.5,507.9 426.5,502.6 434.5,497.3" fill="none" stroke="#ff0000" stroke-width="2" stroke-linejoin="round" stroke-linecap="round" clip-path="url(#clip01)"/>
<polyline points="10.5,713.5 18.5,709.4 26.5,709.4 34.5,709.4 42.5,702.1 50.5,697.1 58.5,697.3 66.5,702.7 74.5,707.7 82.5,715.9 90.5,719.0 98.5,726.0 106.5,731.7 114.5,732.3 122.5,732.3 130.5,726.0 138.5,719.1 146.5,717.8 154.5,712.3 162.5,705.4 170.5,698.4 178.5,698.4 186.5,698.4 194.5,697.0 202.5,689.5 210.5,682.0 218.5,675.1 226.5,673.4 234.5,673.4 242.5,673.4 250.5,677.8 258.5,682.0 266.5,664.9 274.5,648.3 282.5,640.8 290.5,633.2 298.5,623.7 306.5,623.7 314.5,620.0 322.5,602.9 330.5,584.2 338.5,574.1 346.5,562.8 354.5,557.1 362.5,549.2 370.5,534.4 378.5,526.8 386.5,521.2 394.5,507.5 402.5,492.8 410.5,482.2 418.5,475.3 426.5,472.3 434.5,471.6" fill="none" stroke="#80ff00" stroke-width="2" stroke-linejoin="round" stroke-linecap="round" clip-path="url(#clip01)"/>
<rect x="9.5" y="432.5" width="443" height="330" fill="none" stroke="#fff" stroke-width="1" shape-rendering="crispEdges"/>
<path d="M453,759.5H455M453,726.5H455M453,693.5H455M453,660.5H455M453,627.5H455M453,594.5H455M453,561.5H455M453,528.5H455M453,495.5H455M453,462.5H455M10.5,763V766M74.5,763V766M138.5,763V766M202.5,763V766M266.5,763V766M330.5,763V766M394.5,763V766" stroke="#fff" stroke-width="1" fill="none" shape-rendering="crispEdges"/>
<text x="458.5" y="763" class="n">143.470</text>
<text x="458.5" y="730" class="n">143.765</text>
<text x="458.5" y="697" class="n">144.065</text>
<text x="458.5" y="664" class="n">144.360</text>
<text x="458.5" y="631" class="n">144.660</text>
<text x="458.5" y="598" class="n">144.955</text>
<text x="458.5" y="565" class="n">145.250</text>
<text x="458.5" y="532" class="n">145.550</text>
<text x="458.5" y="499" class="n">145.845</text>
<text x="458.5" y="466" class="n">146.140</text>
<path d="M454,462 h41 v11 h-41 v-4 l-1,-1 v-1 l1,-1 z" fill="#fff"/>
<text x="458.5" y="471" class="n" fill="#000">146.103</text>
<text x="9" y="775" class="t">2 Oct 2024</text>
<text x="73" y="775" class="t">2 Oct 07:30</text>
<text x="137" y="775" class="t">2 Oct 09:30</text>
<text x="201" y="775" class="t">2 Oct 11:30</text>
<text x="265" y="775" class="t">2 Oct 13:30</text>
<text x="329" y="775" class="t">2 Oct 15:30</text>
<text x="393" y="775" class="t">2 Oct 17:30</text>
<path d="M12.5,439 h8 l-4,4.5 z" fill="#fff"/>
<text x="25" y="444" class="t" xml:space="preserve">USDJPY,M15<tspan class="n" word-spacing="1.1">  146.103 146.128 146.075 146.103</tspan></text>
<path d="M392.5,717 L393,624 L397,624 L395.5,717 Z" fill="#ff9a00"/>
<path d="M395,612 l7.5,15 h-15 z" fill="#ff9a00"/>
<path d="M508.5,792.5 V403 Q508.5,397.5 514,397.5 H1013 Q1018.5,397.5 1018.5,403 V792.5 Z" fill="url(#gI)" stroke="#383838" stroke-width="1"/>
<path d="M509.5,791.5 V403 Q509.5,398.5 514,398.5 H1013 Q1017.5,398.5 1017.5,403 V791.5 Z" fill="none" stroke="#f2f5fa" stroke-width="1"/>
<rect x="516" y="428" width="495" height="357" fill="#ffffff"/>
<rect x="516" y="428" width="494" height="356" fill="#a0a0a0"/>
<rect x="517" y="429" width="493" height="355" fill="#e3e3e3"/>
<rect x="517" y="429" width="492" height="354" fill="#696969"/>
<rect x="518" y="430" width="491" height="353" fill="#000"/>
<g transform="translate(509,398)"><rect x="10.5" y="11.5" width="11" height="8" fill="#fff" stroke="#4683f0" stroke-width="1"/><rect x="10" y="11" width="12" height="2" fill="#4683f0"/><path d="M12,16.5 l1.2,-1.5 l1.2,1.5 M15,15 l1.3,1.3 h3" fill="none" stroke="#4683f0" stroke-width="1.1"/><rect x="13.5" y="16.5" width="10" height="8" fill="#fff" stroke="#4683f0" stroke-width="1"/><rect x="13" y="16" width="11" height="2" fill="#4683f0"/><path d="M15.5,19.5 L17.3,22.5 L19.2,19.5 L21.2,22.5" fill="none" stroke="#4683f0" stroke-width="1.2"/></g>
<text x="538.5" y="421" font-family="'Liberation Sans', Arial, sans-serif" font-size="11.6" letter-spacing="-0.32" fill="#979eae">GBPJPY,M5</text>
<rect x="909.5" y="407.5" width="31" height="17" rx="3" fill="url(#gBtnI)" stroke="#8592ad" stroke-width="1"/>
<rect x="910.5" y="408.5" width="29" height="15" rx="2" fill="none" stroke="#ffffff" stroke-opacity="0.45" stroke-width="1"/>
<rect x="919.5" y="415.5" width="10" height="4" rx="1.5" fill="#fbfbfb" stroke="#3c4150" stroke-width="1"/>
<rect x="943.5" y="407.5" width="31" height="17" rx="3" fill="url(#gBtnI)" stroke="#8592ad" stroke-width="1"/>
<rect x="944.5" y="408.5" width="29" height="15" rx="2" fill="none" stroke="#ffffff" stroke-opacity="0.45" stroke-width="1"/>
<rect x="953.5" y="411.5" width="10" height="8" rx="1.2" fill="#fbfbfb" stroke="#3c4150" stroke-width="1"/><rect x="956.5" y="414.5" width="4" height="2" fill="#9aa8c8" stroke="#3c4150" stroke-width="1"/>
<rect x="977.5" y="407.5" width="31" height="17" rx="3" fill="url(#gBtnI)" stroke="#8592ad" stroke-width="1"/>
<rect x="978.5" y="408.5" width="29" height="15" rx="2" fill="none" stroke="#ffffff" stroke-opacity="0.45" stroke-width="1"/>
<path d="M989.4,413.2 L996.1999999999999,418.2 M996.1999999999999,413.2 L989.4,418.2" stroke="#3c4150" stroke-width="4.2" stroke-linecap="round"/><path d="M989.4,413.2 L996.1999999999999,418.2 M996.1999999999999,413.2 L989.4,418.2" stroke="#fbfbfb" stroke-width="2.2" stroke-linecap="round"/>
<clipPath id="clip11"><rect x="521" y="433" width="442" height="329"/></clipPath>
<rect x="521" y="465" width="442" height="1" fill="#8896aa"/>
<path d="M553.5,432V762M585.5,432V762M617.5,432V762M649.5,432V762M681.5,432V762M713.5,432V762M745.5,432V762M777.5,432V762M809.5,432V762M841.5,432V762M873.5,432V762M905.5,432V762M937.5,432V762" stroke="#a3aac2" stroke-width="1" stroke-dasharray="3 3" fill="none" shape-rendering="crispEdges"/>
<path d="M522,759.5H963M522,726.5H963M522,693.5H963M522,660.5H963M522,627.5H963M522,594.5H963M522,561.5H963M522,528.5H963M522,495.5H963M522,462.5H963" stroke="#a3aac2" stroke-width="1" stroke-dasharray="3 3" fill="none" shape-rendering="crispEdges" clip-path="url(#clip11)"/>
<path d="M521.5,736V755M519,748.5H521M522,746.5H524M529.5,735V755M527,746.5H529M530,740.5H532M537.5,713V746M535,740.5H537M538,717.5H540M545.5,702V718M543,717.5H545M546,714.5H548M553.5,710V744M551,714.5H553M554,739.5H556M561.5,710V743M559,739.5H561M562,717.5H564M569.5,716V736M567,717.5H569M570,735.5H572M577.5,712V737M575,735.5H577M578,714.5H580M585.5,712V735M583,715.5H585M586,722.5H588M593.5,706V729M591,723.5H593M594,715.5H596M601.5,658V725M599,718.5H601M602,660.5H604M609.5,648V665M607,661.5H609M610,664.5H612M617.5,639V669M615,663.5H617M618,659.5H620M625.5,639V674M623,659.5H625M626,644.5H628M633.5,637V657M631,645.5H633M634,639.5H636M641.5,625V647M639,640.5H641M642,630.5H644M649.5,623V650M647,630.5H649M650,625.5H652M657.5,609V629M655,624.5H657M658,613.5H660M665.5,612V635M663,613.5H665M666,632.5H668M673.5,623V652M671,632.5H673M674,630.5H676M681.5,613V643M679,630.5H681M682,616.5H684M689.5,604V619M687,616.5H689M690,607.5H692M697.5,598V619M695,607.5H697M698,600.5H700M705.5,591V607M703,600.5H705M706,604.5H708M713.5,598V618M711,604.5H713M714,614.5H716M721.5,597V632M719,616.5H721M722,598.5H724M729.5,573V615M727,598.5H729M730,605.5H732M737.5,607V633M735,607.5H737M738,629.5H740M745.5,557V629M743,627.5H745M746,564.5H748M753.5,562V585M751,564.5H753M754,578.5H756M761.5,559V585M759,578.5H761M762,572.5H764M769.5,554V592M767,572.5H769M770,564.5H772M777.5,562V591M775,564.5H777M778,588.5H780M785.5,565V592M783,588.5H785M786,575.5H788M793.5,562V585M791,575.5H793M794,570.5H796M801.5,565V598M799,568.5H801M802,591.5H804M809.5,576V597M807,591.5H809M810,582.5H812M817.5,553V593M815,582.5H817M818,557.5H820M825.5,542V584M823,565.5H825M826,552.5H828M833.5,532V560M831,556.5H833M834,540.5H836M841.5,523V562M839,540.5H841M842,523.5H844M849.5,502V529M847,523.5H849M850,509.5H852M857.5,485V519M855,509.5H857M858,504.5H860M865.5,495V540M863,504.5H865M866,500.5H868M873.5,487V526M871,500.5H873M874,513.5H876M881.5,496V520M879,513.5H881M882,504.5H884M889.5,491V508M887,504.5H889M890,502.5H892M897.5,469V511M895,502.5H897M898,470.5H900M905.5,467V484M903,470.5H905M906,470.5H908M913.5,450V471M911,470.5H913M914,464.5H916M921.5,459V480M919,465.5H921M922,472.5H924M929.5,467V494M927,475.5H929M930,472.5H932M937.5,464V476M935,472.5H937M938,467.5H940M945.5,465V467M943,466.5H945M946,465.5H948" stroke="#00ff00" stroke-width="1" fill="none" shape-rendering="crispEdges" clip-path="url(#clip11)"/>
<polyline points="529.5,763.5 537.5,755.7 545.5,750.0 553.5,748.1 561.5,743.7 569.5,742.4 577.5,738.0 585.5,736.8 593.5,733.7 601.5,723.5 609.5,715.7 617.5,706.6 625.5,697.6 633.5,689.4 641.5,679.6 649.5,668.8 657.5,660.6 665.5,656.5 673.5,652.4 681.5,645.8 689.5,639.3 697.5,633.5 705.5,629.4 713.5,627.7 721.5,622.5 729.5,622.5 737.5,622.2 745.5,614.0 753.5,608.3 761.5,602.5 769.5,596.3 777.5,595.6 785.5,592.2 793.5,588.6 801.5,588.6 809.5,588.6 817.5,584.5 825.5,579.1 833.5,573.0 841.5,565.2 849.5,555.3 857.5,548.7 865.5,541.3 873.5,537.5 881.5,533.6 889.5,528.2 897.5,519.2 905.5,511.3 913.5,504.0 921.5,500.6 929.5,496.6 937.5,491.8 945.5,488.4" fill="none" stroke="#ff0000" stroke-width="2" stroke-linejoin="round" stroke-linecap="round" clip-path="url(#clip11)"/>
<polyline points="521.5,751.3 529.5,747.5 537.5,737.4 545.5,730.1 553.5,733.0 561.5,727.9 569.5,730.4 577.5,725.0 585.5,725.6 593.5,723.0 601.5,699.3 609.5,687.8 617.5,678.0 625.5,668.1 633.5,658.3 641.5,647.6 649.5,640.7 657.5,631.1 665.5,631.1 673.5,631.1 681.5,624.2 689.5,618.8 697.5,613.0 705.5,611.1 713.5,611.5 721.5,608.3 729.5,608.3 737.5,615.3 745.5,598.9 753.5,591.9 761.5,586.2 769.5,578.3 777.5,581.6 785.5,580.4 793.5,577.1 801.5,582.1 809.5,582.1 817.5,577.5 825.5,570.6 833.5,561.6 841.5,548.0 849.5,535.6 857.5,526.1 865.5,516.2 873.5,516.2 881.5,513.5 889.5,509.4 897.5,496.2 905.5,487.1 913.5,479.0 921.5,479.0 929.5,478.5 937.5,473.7 945.5,472.6" fill="none" stroke="#80ff00" stroke-width="2" stroke-linejoin="round" stroke-linecap="round" clip-path="url(#clip11)"/>
<rect x="520.5" y="432.5" width="443" height="330" fill="none" stroke="#fff" stroke-width="1" shape-rendering="crispEdges"/>
<path d="M964,759.5H966M964,726.5H966M964,693.5H966M964,660.5H966M964,627.5H966M964,594.5H966M964,561.5H966M964,528.5H966M964,495.5H966M964,462.5H966M521.5,763V766M585.5,763V766M649.5,763V766M713.5,763V766M777.5,763V766M841.5,763V766M905.5,763V766" stroke="#fff" stroke-width="1" fill="none" shape-rendering="crispEdges"/>
<text x="969.5" y="763" class="n">192.195</text>
<text x="969.5" y="730" class="n">192.385</text>
<text x="969.5" y="697" class="n">192.580</text>
<text x="969.5" y="664" class="n">192.775</text>
<text x="969.5" y="631" class="n">192.965</text>
<text x="969.5" y="598" class="n">193.160</text>
<text x="969.5" y="565" class="n">193.355</text>
<text x="969.5" y="532" class="n">193.545</text>
<text x="969.5" y="499" class="n">193.740</text>
<path d="M965,460 h41 v11 h-41 v-4 l-1,-1 v-1 l1,-1 z" fill="#fff"/>
<text x="969.5" y="469" class="n" fill="#000">193.914</text>
<text x="520" y="775" class="t">2 Oct 2024</text>
<text x="584" y="775" class="t">2 Oct 15:05</text>
<text x="648" y="775" class="t">2 Oct 15:45</text>
<text x="712" y="775" class="t">2 Oct 16:25</text>
<text x="776" y="775" class="t">2 Oct 17:05</text>
<text x="840" y="775" class="t">2 Oct 17:45</text>
<text x="904" y="775" class="t">2 Oct 18:25</text>
<path d="M523.5,439 h8 l-4,4.5 z" fill="#fff"/>
<text x="536" y="444" class="t" xml:space="preserve">GBPJPY,M5<tspan class="n" word-spacing="1.1">  193.908 193.915 193.908 193.914</tspan></text>
<path d="M904.5,704 L905,602 L909,602 L907.5,704 Z" fill="#ff9a00"/>
<path d="M907,590 l7.5,15 h-15 z" fill="#ff9a00"/>
<path d="M1019.5,792.5 V403 Q1019.5,397.5 1025,397.5 H1524 Q1529.5,397.5 1529.5,403 V792.5 Z" fill="url(#gA)" stroke="#383838" stroke-width="1"/>
<path d="M1020.5,791.5 V403 Q1020.5,398.5 1025,398.5 H1524 Q1528.5,398.5 1528.5,403 V791.5 Z" fill="none" stroke="#eef3f9" stroke-width="1"/>
<rect x="1020" y="791" width="509" height="1" fill="#2fd0ec"/>
<rect x="1027" y="428" width="495" height="357" fill="#ffffff"/>
<rect x="1027" y="428" width="494" height="356" fill="#a0a0a0"/>
<rect x="1028" y="429" width="493" height="355" fill="#e3e3e3"/>
<rect x="1028" y="429" width="492" height="354" fill="#696969"/>
<rect x="1029" y="430" width="491" height="353" fill="#000"/>
<g transform="translate(1020,398)"><rect x="10.5" y="11.5" width="11" height="8" fill="#fff" stroke="#4683f0" stroke-width="1"/><rect x="10" y="11" width="12" height="2" fill="#4683f0"/><path d="M12,16.5 l1.2,-1.5 l1.2,1.5 M15,15 l1.3,1.3 h3" fill="none" stroke="#4683f0" stroke-width="1.1"/><rect x="13.5" y="16.5" width="10" height="8" fill="#fff" stroke="#4683f0" stroke-width="1"/><rect x="13" y="16" width="11" height="2" fill="#4683f0"/><path d="M15.5,19.5 L17.3,22.5 L19.2,19.5 L21.2,22.5" fill="none" stroke="#4683f0" stroke-width="1.2"/></g>
<text x="1049.5" y="421" font-family="'Liberation Sans', Arial, sans-serif" font-size="11.6" letter-spacing="-0.32" fill="#1c1c28">NZDJPY,M5</text>
<rect x="1420.5" y="407.5" width="31" height="17" rx="3" fill="url(#gBtnA)" stroke="#6f83a6" stroke-width="1"/>
<rect x="1421.5" y="408.5" width="29" height="15" rx="2" fill="none" stroke="#ffffff" stroke-opacity="0.45" stroke-width="1"/>
<rect x="1430.5" y="415.5" width="10" height="4" rx="1.5" fill="#fbfbfb" stroke="#3c4150" stroke-width="1"/>
<rect x="1454.5" y="407.5" width="31" height="17" rx="3" fill="url(#gBtnA)" stroke="#6f83a6" stroke-width="1"/>
<rect x="1455.5" y="408.5" width="29" height="15" rx="2" fill="none" stroke="#ffffff" stroke-opacity="0.45" stroke-width="1"/>
<rect x="1464.5" y="411.5" width="10" height="8" rx="1.2" fill="#fbfbfb" stroke="#3c4150" stroke-width="1"/><rect x="1467.5" y="414.5" width="4" height="2" fill="#9aa8c8" stroke="#3c4150" stroke-width="1"/>
<rect x="1488.5" y="407.5" width="31" height="17" rx="3" fill="url(#gRed)" stroke="#5e1616" stroke-width="1"/>
<path d="M1500.3999999999999,413.2 L1507.2,418.2 M1507.2,413.2 L1500.3999999999999,418.2" stroke="#3c4150" stroke-width="4.2" stroke-linecap="round"/><path d="M1500.3999999999999,413.2 L1507.2,418.2 M1507.2,413.2 L1500.3999999999999,418.2" stroke="#fbfbfb" stroke-width="2.2" stroke-linecap="round"/>
<clipPath id="clip21"><rect x="1032" y="433" width="447" height="329"/></clipPath>
<rect x="1032" y="453" width="447" height="1" fill="#8896aa"/>
<path d="M1064.5,432V762M1096.5,432V762M1128.5,432V762M1160.5,432V762M1192.5,432V762M1224.5,432V762M1256.5,432V762M1288.5,432V762M1320.5,432V762M1352.5,432V762M1384.5,432V762M1416.5,432V762M1448.5,432V762" stroke="#a3aac2" stroke-width="1" stroke-dasharray="3 3" fill="none" shape-rendering="crispEdges"/>
<path d="M1033,759.5H1479M1033,725.5H1479M1033,691.5H1479M1033,656.5H1479M1033,622.5H1479M1033,588.5H1479M1033,554.5H1479M1033,520.5H1479M1033,487.5H1479M1033,453.5H1479" stroke="#a3aac2" stroke-width="1" stroke-dasharray="3 3" fill="none" shape-rendering="crispEdges" clip-path="url(#clip21)"/>
<path d="M1032.5,714V733M1030,727.5H1032M1033,725.5H1035M1040.5,709V731M1038,725.5H1040M1041,715.5H1043M1048.5,698V719M1046,717.5H1048M1049,705.5H1051M1056.5,690V710M1054,700.5H1056M1057,706.5H1059M1064.5,702V734M1062,706.5H1064M1065,729.5H1067M1072.5,715V739M1070,729.5H1072M1073,733.5H1075M1080.5,721V752M1078,733.5H1080M1081,748.5H1083M1088.5,717V755M1086,750.5H1088M1089,722.5H1091M1096.5,718V741M1094,722.5H1096M1097,737.5H1099M1104.5,713V740M1102,737.5H1104M1105,728.5H1107M1112.5,668V733M1110,724.5H1112M1113,669.5H1115M1120.5,650V679M1118,670.5H1120M1121,666.5H1123M1128.5,635V670M1126,666.5H1128M1129,658.5H1131M1136.5,641V685M1134,659.5H1136M1137,642.5H1139M1144.5,614V662M1142,645.5H1144M1145,615.5H1147M1152.5,596V623M1150,612.5H1152M1153,605.5H1155M1160.5,600V633M1158,605.5H1160M1161,611.5H1163M1168.5,596V616M1166,611.5H1168M1169,609.5H1171M1176.5,601V625M1174,609.5H1176M1177,622.5H1179M1184.5,614V650M1182,620.5H1184M1185,618.5H1187M1192.5,594V631M1190,618.5H1192M1193,605.5H1195M1200.5,594V615M1198,603.5H1200M1201,603.5H1203M1208.5,592V616M1206,603.5H1208M1209,592.5H1211M1216.5,581V602M1214,595.5H1216M1217,595.5H1219M1224.5,587V606M1222,596.5H1224M1225,600.5H1227M1232.5,586V631M1230,604.5H1232M1233,589.5H1235M1240.5,562V619M1238,590.5H1240M1241,612.5H1243M1248.5,608V638M1246,612.5H1248M1249,635.5H1251M1256.5,558V633M1254,632.5H1256M1257,565.5H1259M1264.5,561V589M1262,564.5H1264M1265,575.5H1267M1272.5,550V578M1270,576.5H1272M1273,570.5H1275M1280.5,538V586M1278,571.5H1280M1281,547.5H1283M1288.5,540V568M1286,548.5H1288M1289,561.5H1291M1296.5,540V562M1294,561.5H1296M1297,554.5H1299M1304.5,544V571M1302,556.5H1304M1305,558.5H1307M1312.5,549V606M1310,555.5H1312M1313,604.5H1315M1320.5,577V615M1318,604.5H1320M1321,610.5H1323M1328.5,540V598M1326,590.5H1328M1329,553.5H1331M1336.5,531V571M1334,555.5H1336M1337,544.5H1339M1344.5,523V547M1342,544.5H1344M1345,535.5H1347M1352.5,519V559M1350,533.5H1352M1353,519.5H1355M1360.5,509V540M1358,518.5H1360M1361,514.5H1363M1368.5,489V522M1366,515.5H1368M1369,507.5H1371M1376.5,489V536M1374,507.5H1376M1377,495.5H1379M1384.5,485V531M1382,496.5H1384M1385,525.5H1387M1392.5,488V528M1390,525.5H1392M1393,497.5H1395M1400.5,488V512M1398,498.5H1400M1401,503.5H1403M1408.5,484V519M1406,504.5H1408M1409,485.5H1411M1416.5,476V493M1414,485.5H1416M1417,478.5H1419M1424.5,456V482M1422,479.5H1424M1425,465.5H1427M1432.5,458V483M1430,465.5H1432M1433,470.5H1435M1440.5,464V496M1438,482.5H1440M1441,465.5H1443M1448.5,451V469M1446,465.5H1448M1449,454.5H1451M1456.5,453V454M1454,453.5H1456M1457,453.5H1459" stroke="#00ff00" stroke-width="1" fill="none" shape-rendering="crispEdges" clip-path="url(#clip21)"/>
<polyline points="1032.5,754.5 1040.5,748.0 1048.5,741.7 1056.5,736.5 1064.5,734.5 1072.5,734.1 1080.5,735.1 1088.5,733.7 1096.5,733.2 1104.5,732.4 1112.5,723.4 1120.5,715.9 1128.5,708.0 1136.5,696.6 1144.5,684.8 1152.5,672.0 1160.5,662.9 1168.5,655.2 1176.5,649.9 1184.5,644.6 1192.5,637.0 1200.5,631.0 1208.5,625.7 1216.5,621.6 1224.5,619.3 1232.5,614.3 1240.5,614.3 1248.5,617.3 1256.5,610.4 1264.5,604.8 1272.5,599.5 1280.5,591.9 1288.5,587.0 1296.5,582.1 1304.5,579.1 1312.5,582.1 1320.5,582.1 1328.5,578.4 1336.5,573.8 1344.5,566.3 1352.5,558.7 1360.5,549.7 1368.5,542.9 1376.5,537.3 1384.5,535.3 1392.5,529.7 1400.5,525.2 1408.5,519.0 1416.5,512.8 1424.5,505.4 1432.5,502.9 1440.5,496.0 1448.5,489.0 1456.5,485.3" fill="none" stroke="#ff0000" stroke-width="2" stroke-linejoin="round" stroke-linecap="round" clip-path="url(#clip21)"/>
<polyline points="1032.5,731.3 1040.5,725.1 1048.5,718.9 1056.5,715.1 1064.5,720.3 1072.5,720.7 1080.5,729.3 1088.5,728.6 1096.5,730.8 1104.5,727.7 1112.5,714.8 1120.5,696.6 1128.5,683.7 1136.5,670.9 1144.5,651.6 1152.5,636.6 1160.5,627.5 1168.5,621.6 1176.5,621.6 1184.5,621.6 1192.5,615.9 1200.5,611.6 1208.5,604.5 1216.5,602.3 1224.5,602.4 1232.5,598.7 1240.5,604.0 1248.5,613.1 1256.5,597.2 1264.5,591.9 1272.5,584.3 1280.5,571.5 1288.5,568.8 1296.5,564.0 1304.5,561.7 1312.5,576.1 1320.5,577.6 1328.5,570.0 1336.5,562.5 1344.5,553.4 1352.5,542.8 1360.5,533.1 1368.5,524.0 1376.5,514.9 1384.5,517.7 1392.5,511.9 1400.5,508.6 1408.5,501.0 1416.5,493.2 1424.5,484.0 1432.5,484.0 1440.5,476.4 1448.5,469.8 1456.5,465.1" fill="none" stroke="#80ff00" stroke-width="2" stroke-linejoin="round" stroke-linecap="round" clip-path="url(#clip21)"/>
<rect x="1031.5" y="432.5" width="448" height="330" fill="none" stroke="#fff" stroke-width="1" shape-rendering="crispEdges"/>
<path d="M1480,759.5H1482M1480,725.5H1482M1480,691.5H1482M1480,656.5H1482M1480,622.5H1482M1480,588.5H1482M1480,554.5H1482M1480,520.5H1482M1480,487.5H1482M1480,453.5H1482M1032.5,763V766M1096.5,763V766M1160.5,763V766M1224.5,763V766M1288.5,763V766M1352.5,763V766M1416.5,763V766" stroke="#fff" stroke-width="1" fill="none" shape-rendering="crispEdges"/>
<text x="1485.5" y="763" class="n">90.910</text>
<text x="1485.5" y="729" class="n">90.995</text>
<text x="1485.5" y="695" class="n">91.080</text>
<text x="1485.5" y="660" class="n">91.165</text>
<text x="1485.5" y="626" class="n">91.250</text>
<text x="1485.5" y="592" class="n">91.335</text>
<text x="1485.5" y="558" class="n">91.420</text>
<text x="1485.5" y="524" class="n">91.505</text>
<text x="1485.5" y="491" class="n">91.590</text>
<path d="M1481,448 h36 v11 h-36 v-4 l-1,-1 v-1 l1,-1 z" fill="#fff"/>
<text x="1485.5" y="457" class="n" fill="#000">91.670</text>
<text x="1031" y="775" class="t">2 Oct 2024</text>
<text x="1095" y="775" class="t">2 Oct 15:05</text>
<text x="1159" y="775" class="t">2 Oct 15:45</text>
<text x="1223" y="775" class="t">2 Oct 16:25</text>
<text x="1287" y="775" class="t">2 Oct 17:05</text>
<text x="1351" y="775" class="t">2 Oct 17:45</text>
<text x="1415" y="775" class="t">2 Oct 18:25</text>
<path d="M1034.5,439 h8 l-4,4.5 z" fill="#fff"/>
<text x="1047" y="444" class="t" xml:space="preserve">NZDJPY,M5<tspan class="n" word-spacing="1.1">  91.670 91.670 91.670 91.670</tspan></text>
<rect x="522" y="7" width="140" height="30" fill="#ffff3c" style="mix-blend-mode:multiply"/>
<rect x="10" y="400" width="153" height="26" fill="#ffff3c" style="mix-blend-mode:multiply"/>
<rect x="530" y="406" width="179" height="23" fill="#ffff3c" style="mix-blend-mode:multiply"/>
</svg></body></html>
